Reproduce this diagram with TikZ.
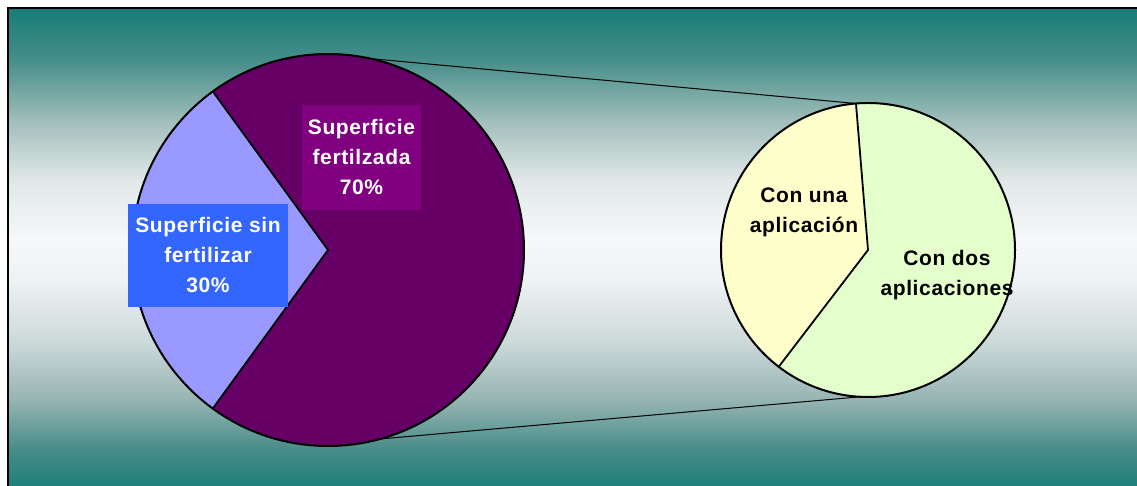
\documentclass[tikz,border=0pt]{standalone}
\usepackage{fontspec}
\setmainfont{Liberation Sans}[LetterSpace=3]
\usetikzlibrary{calc}
\definecolor{tealA}{RGB}{24,124,120}
\definecolor{bgA}{RGB}{70,140,136}
\definecolor{bgB}{RGB}{150,180,178}
\definecolor{bgC}{RGB}{205,218,218}
\definecolor{bgD}{RGB}{238,242,244}
\definecolor{bgE}{RGB}{246,248,250}
\definecolor{bgF}{RGB}{225,232,232}
\definecolor{bgG}{RGB}{160,190,186}
\definecolor{bgH}{RGB}{70,142,137}
\definecolor{sliceblue}{RGB}{153,153,255}
\definecolor{sliceplum}{RGB}{102,0,102}
\definecolor{boxplum}{RGB}{128,0,128}
\definecolor{boxblue}{RGB}{51,102,255}
\definecolor{sliceyellow}{RGB}{255,255,204}
\definecolor{slicegreen}{RGB}{228,255,204}
\pgfdeclareverticalshading{bgshade}{100bp}{color(0bp)=(tealA); color(25bp)=(tealA); color(29.3bp)=(bgA); color(34.5bp)=(bgB); color(40.7bp)=(bgC); color(46.9bp)=(bgD); color(51bp)=(bgE); color(57.2bp)=(bgF); color(63.4bp)=(bgG); color(69.6bp)=(bgH); color(75bp)=(tealA); color(100bp)=(tealA)}
\begin{document}
\begin{tikzpicture}[x=1pt,y=1pt,
  outline/.style={line width=2pt, draw=black},
  divider/.style={line width=1.8pt, draw=black},
  zoomline/.style={line width=1pt, draw=black},
  lab/.style={font=\bfseries\fontsize{21}{30}\selectfont, align=center, inner sep=0pt},
  boxlab/.style={lab, text=white, minimum width=#1}
]
\useasboundingbox (0,0) rectangle (1137,486);
\clip (0,0) rectangle (1137,486);
% background frame
\path[shading=bgshade] (8,-6) rectangle (1145,478);
\draw[line width=1.5pt] (8,-6) -- (8,478) -- (1145,478);
% centres
\coordinate (L) at (328,236);
\coordinate (R) at (868,236);
% slice boundary points
\coordinate (Ltop) at ([shift={(126:196)}]L);
\coordinate (Lbot) at ([shift={(234:196)}]L);
\coordinate (Rtop) at ([shift={(94.7:147)}]R);
\coordinate (Rbot) at ([shift={(232.6:147)}]R);
% connector end points
\coordinate (Lz1) at ([shift={(77.6:196)}]L);
\coordinate (Lz2) at ([shift={(-74.6:196)}]L);
\coordinate (Rz2) at ([shift={(-93:147)}]R);
% zoom lines
\draw[zoomline] (Lz1) -- (Rtop);
\draw[zoomline] (Lz2) -- (Rz2);
% left pie
\fill[sliceblue] (L) -- (Ltop) arc[start angle=126, end angle=234, radius=196] -- cycle;
\fill[sliceplum] (L) -- (Lbot) arc[start angle=234, end angle=486, radius=196] -- cycle;
\draw[outline] (L) circle[radius=196];
\draw[divider] (Ltop) -- (L) -- (Lbot);
% right pie
\fill[sliceyellow] (R) -- (Rtop) arc[start angle=94.7, end angle=232.6, radius=147] -- cycle;
\fill[slicegreen] (R) -- (Rbot) arc[start angle=232.6, end angle=454.7, radius=147] -- cycle;
\draw[outline] (R) circle[radius=147];
\draw[divider] (Rtop) -- (R) -- (Rbot);
% labels
\node[boxlab=119pt, fill=boxplum, minimum height=105pt] (fert) at (361.5,328.5) {Superficie\\fertilzada\\70\%};
\node[boxlab=160pt, fill=boxblue, minimum height=103pt] (sin) at (208,230.5) {Superficie sin\\fertilizar\\30\%};
\node[lab] (una) at (804,274) {Con una\\aplicación};
\node[lab] (dos) at (947,211) {Con dos\\aplicaciones};
\end{tikzpicture}
\end{document}
